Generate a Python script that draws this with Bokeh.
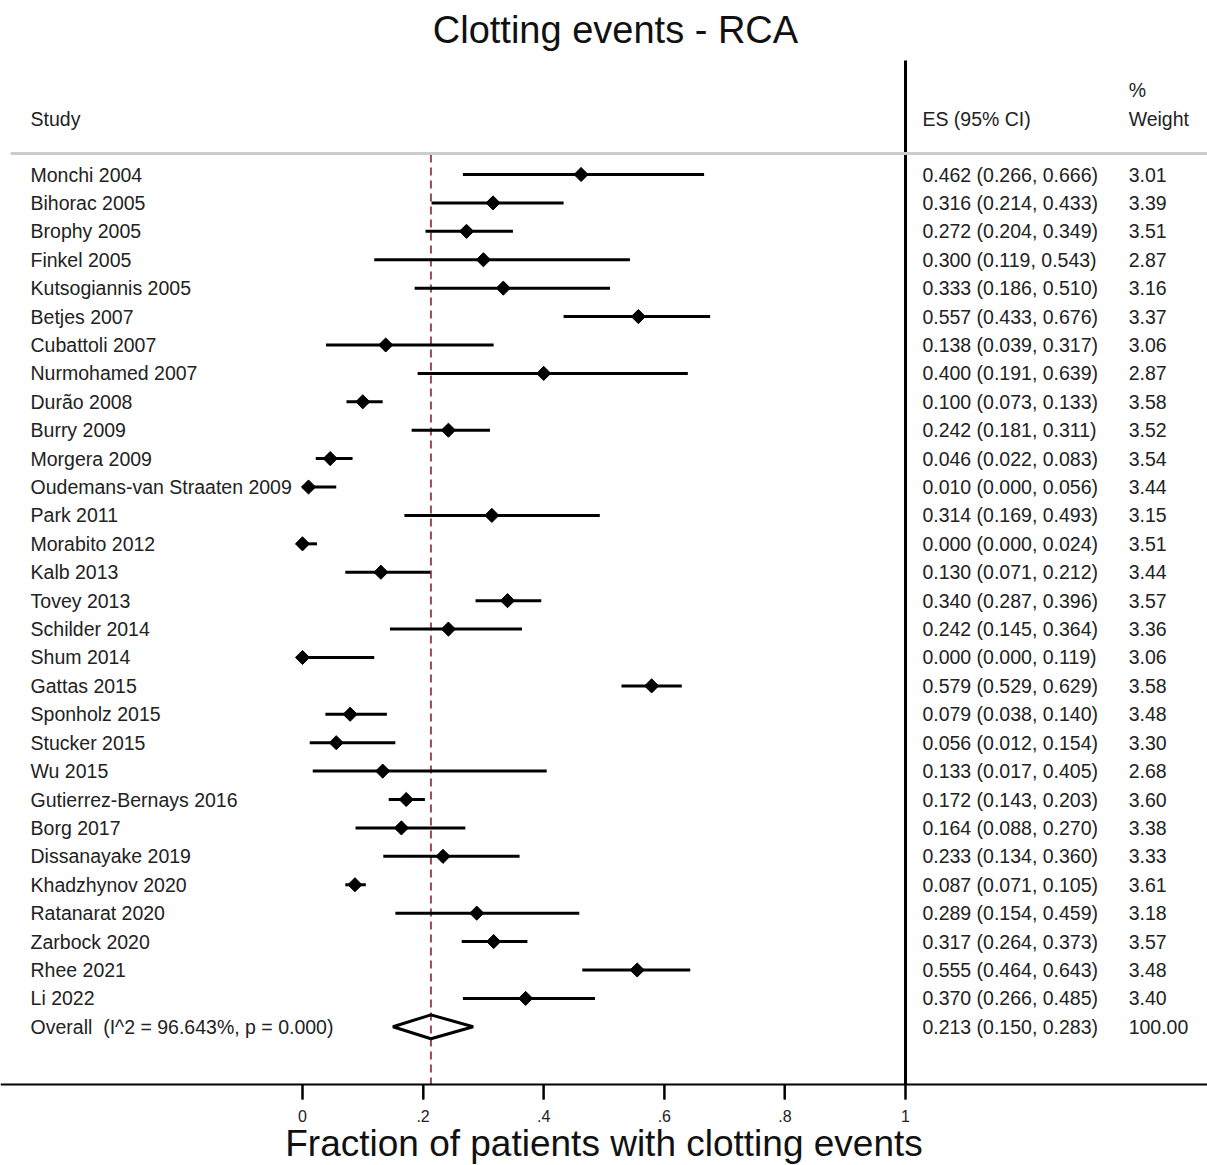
import numpy as np
from bokeh.plotting import figure
from bokeh.models import Range1d, FixedTicker, CustomJSTickFormatter, ColumnDataSource
from bokeh.core.properties import value
from bokeh.embed import file_html
from bokeh.resources import INLINE

studies = ["Monchi 2004", "Bihorac 2005", "Brophy 2005", "Finkel 2005", "Kutsogiannis 2005",
           "Betjes 2007", "Cubattoli 2007", "Nurmohamed 2007", "Durão 2008", "Burry 2009",
           "Morgera 2009", "Oudemans-van Straaten 2009", "Park 2011", "Morabito 2012", "Kalb 2013",
           "Tovey 2013", "Schilder 2014", "Shum 2014", "Gattas 2015", "Sponholz 2015",
           "Stucker 2015", "Wu 2015", "Gutierrez-Bernays 2016", "Borg 2017", "Dissanayake 2019",
           "Khadzhynov 2020", "Ratanarat 2020", "Zarbock 2020", "Rhee 2021", "Li 2022"]
es = [0.462, 0.316, 0.272, 0.300, 0.333, 0.557, 0.138, 0.400, 0.100, 0.242,
      0.046, 0.010, 0.314, 0.000, 0.130, 0.340, 0.242, 0.000, 0.579, 0.079,
      0.056, 0.133, 0.172, 0.164, 0.233, 0.087, 0.289, 0.317, 0.555, 0.370]
lo = [0.266, 0.214, 0.204, 0.119, 0.186, 0.433, 0.039, 0.191, 0.073, 0.181,
      0.022, 0.000, 0.169, 0.000, 0.071, 0.287, 0.145, 0.000, 0.529, 0.038,
      0.012, 0.017, 0.143, 0.088, 0.134, 0.071, 0.154, 0.264, 0.464, 0.266]
hi = [0.666, 0.433, 0.349, 0.543, 0.510, 0.676, 0.317, 0.639, 0.133, 0.311,
      0.083, 0.056, 0.493, 0.024, 0.212, 0.396, 0.364, 0.119, 0.629, 0.140,
      0.154, 0.405, 0.203, 0.270, 0.360, 0.105, 0.459, 0.373, 0.643, 0.485]
weights = [3.01, 3.39, 3.51, 2.87, 3.16, 3.37, 3.06, 2.87, 3.58, 3.52,
           3.54, 3.44, 3.15, 3.51, 3.44, 3.57, 3.36, 3.06, 3.58, 3.48,
           3.30, 2.68, 3.60, 3.38, 3.33, 3.61, 3.18, 3.57, 3.48, 3.40]
overall_es, overall_lo, overall_hi, overall_w = 0.213, 0.150, 0.283, 100.00
overall_label = "Overall \u00a0(I^2 = 96.643%, p = 0.000)"
tick_values = [0, 0.2, 0.4, 0.6, 0.8, 1]

FONT = value("Liberation Sans")
n = len(studies)
rows = [-i for i in range(n)]          # row positions, top to bottom
overall_row = -n

# layout (data coordinates)
X_LEFT, X_RIGHT = -0.5008, 1.5008
Y_BOTTOM, Y_TOP = -34.882, 6.125
Y_AXIS = -32.031
TICK_LEN = 0.528          # 15 px in row units
X_STUDY, X_ES, X_W = -0.451, 1.028, 1.370

p = figure(width=1207, height=1165, output_backend="svg", toolbar_location=None,
           x_range=Range1d(X_LEFT, X_RIGHT), y_range=Range1d(Y_BOTTOM, Y_TOP),
           min_border=0, outline_line_color=None, background_fill_color="white")
p.yaxis.visible = False
p.grid.visible = False

xa = p.xaxis[0]
xa.fixed_location = Y_AXIS
xa.ticker = FixedTicker(ticks=tick_values)
xa.formatter = CustomJSTickFormatter(code="""
    if (tick == 0) return "0";
    if (tick == 1) return "1";
    return tick.toFixed(1).replace(/^0/, "");
""")
xa.axis_line_width = 2
xa.axis_line_color = "black"
xa.major_tick_line_width = 2
xa.major_tick_line_color = "black"
xa.major_tick_out = 15
xa.major_tick_in = 0
xa.major_label_standoff = 10
xa.major_label_text_font = "Liberation Sans"
xa.major_label_text_font_size = "16px"
xa.major_label_text_color = "#222222"
xa.axis_label = "Fraction of patients with clotting events"
xa.axis_label_text_font = "Liberation Sans"
xa.axis_label_text_font_size = "37px"
xa.axis_label_text_font_style = "normal"
xa.axis_label_text_color = "#111111"
xa.axis_label_standoff = -2

# tick marks under the axis line, at the axis tick values (drawn on top of the axis)
p.segment(x0=tick_values, y0=[Y_AXIS] * len(tick_values), x1=tick_values,
          y1=[Y_AXIS - TICK_LEN] * len(tick_values), line_color="black", line_width=2,
          level="overlay")

# vertical black line at 1, dashed overall line
p.segment(x0=[1], y0=[4.01], x1=[1], y1=[Y_AXIS], line_color="black", line_width=3)
p.segment(x0=[overall_es], y0=[0.70], x1=[overall_es], y1=[Y_AXIS],
          line_color="#9b4a55", line_width=2, line_dash="8 5")
# header separator
p.segment(x0=[-0.484], y0=[0.739], x1=[1.52], y1=[0.739], line_color="#cccccc", line_width=3)

src = ColumnDataSource(dict(
    y=rows, es=es, lo=lo, hi=hi, study=studies,
    es_txt=[f"{e:.3f} ({l:.3f}, {h:.3f})" for e, l, h in zip(es, lo, hi)],
    w_txt=[f"{w:.2f}" for w in weights]))

p.segment(x0="lo", y0="y", x1="hi", y1="y", source=src, line_color="black", line_width=3)
p.scatter(x="es", y="y", source=src, marker="square", angle=np.pi / 4, size=10,
          fill_color="black", line_color="black")

# overall diamond
h = 0.42
p.patch(x=[overall_lo, overall_es, overall_hi, overall_es],
        y=[overall_row, overall_row + h, overall_row, overall_row - h],
        fill_alpha=0, line_color="black", line_width=3)

text_kw = dict(text_font=FONT, text_font_size="19.5px", text_color="#222222",
               text_baseline="middle", text_align="left")
p.text(x=X_STUDY, y="y", text="study", source=src, **text_kw)
p.text(x=X_ES, y="y", text="es_txt", source=src, **text_kw)
p.text(x=X_W, y="y", text="w_txt", source=src, **text_kw)

p.text(x=[X_STUDY], y=[overall_row], text=[overall_label], **text_kw)
p.text(x=[X_ES], y=[overall_row],
       text=[f"{overall_es:.3f} ({overall_lo:.3f}, {overall_hi:.3f})"], **text_kw)
p.text(x=[X_W], y=[overall_row], text=[f"{overall_w:.2f}"], **text_kw)

# headers
p.text(x=[X_STUDY], y=[1.97], text=["Study"], **text_kw)
p.text(x=[X_ES], y=[1.97], text=["ES (95% CI)"], **text_kw)
p.text(x=[X_W], y=[1.97], text=["Weight"], **text_kw)
p.text(x=[X_W], y=[2.96], text=["%"], **text_kw)

# title
p.text(x=[0.519], y=[5.07], text=["Clotting events - RCA"], text_font=FONT,
       text_font_size="38px", text_color="#111111", text_align="center",
       text_baseline="middle")

open("out.html", "w").write(file_html(p, INLINE))
